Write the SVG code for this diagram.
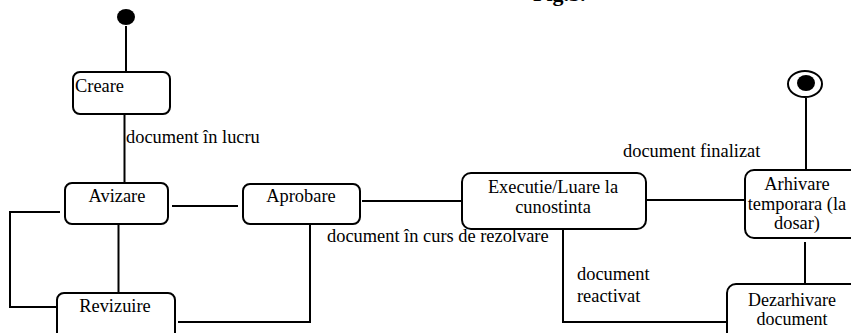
<svg xmlns="http://www.w3.org/2000/svg" width="851" height="333" viewBox="0 0 851 333">
<style>
.box{fill:#fff;stroke:#000;stroke-width:2}
.ln{fill:none;stroke:#000;stroke-width:2}
text{font-family:"Liberation Serif","Times New Roman",serif;font-size:18.4px;fill:#000}
.c{text-anchor:middle}
.t{font-weight:bold;font-size:22px}
.s{font-size:18px}
</style>
<rect width="851" height="333" fill="#fff"/>
<text class="t" x="533" y="1">Fig.3.</text>
<g id="connectors">
<line class="ln" x1="126" y1="26" x2="126" y2="72"/>
<line class="ln" x1="124.5" y1="114" x2="124.5" y2="183"/>
<line class="ln" x1="172" y1="206" x2="238" y2="206"/>
<line class="ln" x1="362" y1="201" x2="462" y2="201"/>
<line class="ln" x1="646" y1="200" x2="745" y2="200"/>
<line class="ln" x1="806" y1="98" x2="806" y2="170"/>
<line class="ln" x1="805" y1="242" x2="805" y2="284"/>
<polyline class="ln" points="563,224 563,322 727,322"/>
<polyline class="ln" points="60,212 10,212 10,307 57,307"/>
<line class="ln" x1="118.5" y1="225" x2="118.5" y2="293"/>
<polyline class="ln" points="178,322 310,322 310,225"/>
</g>
<g id="start"><ellipse cx="126" cy="17" rx="9" ry="8" fill="#000"/></g>
<g id="end"><ellipse cx="805" cy="84" rx="17" ry="13" fill="#fff" stroke="#000" stroke-width="2"/><ellipse cx="806" cy="83" rx="9" ry="8" fill="#000"/></g>
<g id="creare"><rect class="box" x="73" y="72" width="97" height="42" rx="7"/><text x="75" y="92">Creare</text></g>
<g id="avizare"><rect class="box" x="65" y="183" width="103" height="41" rx="7"/><text class="c" x="117" y="202">Avizare</text></g>
<g id="aprobare"><rect class="box" x="243" y="184" width="117" height="40" rx="7"/><text class="c" x="301" y="202">Aprobare</text></g>
<g id="executie"><rect class="box" x="462" y="173" width="184" height="56" rx="9"/><text class="c" x="553" y="193">Executie/Luare la</text><text class="c" x="553" y="213">cunostinta</text></g>
<g id="arhivare"><rect class="box" x="745" y="170" width="130" height="68" rx="9"/><text class="c" x="797" y="190">Arhivare</text><text class="c" x="797" y="210">temporara (la</text><text class="c" x="797" y="229">dosar)</text></g>
<g id="dezarhivare"><rect class="box" x="727" y="284" width="150" height="60" rx="9"/><text class="c s" x="792" y="306">Dezarhivare</text><text class="c s" x="792" y="325">document</text></g>
<g id="revizuire"><rect class="box" x="57" y="293" width="118" height="55" rx="7"/><text class="c" x="115" y="312">Revizuire</text></g>
<g id="labels">
<text x="126" y="143">document în lucru</text>
<text x="327" y="242">document în curs de rezolvare</text>
<text x="623" y="157">document finalizat</text>
<text x="577" y="280">document</text>
<text x="577" y="302">reactivat</text>
</g>
</svg>
